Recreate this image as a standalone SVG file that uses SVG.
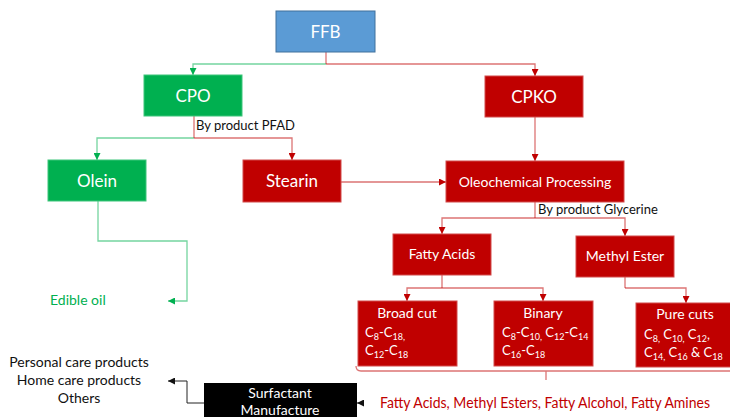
<svg xmlns="http://www.w3.org/2000/svg" width="730" height="417" viewBox="0 0 730 417">
<style>
text{font-family:Lato,"Open Sans","Liberation Sans",sans-serif}
.red{fill:#C00000;stroke:#D24A4A;stroke-width:1}
.grn{fill:#00B050;stroke:#3CC57A;stroke-width:1}
.wt{fill:#fff;text-anchor:middle}
.big{font-size:17px}
.mid{font-size:14px}
.sm{font-size:13px}
.lg{fill:none;stroke:#00B050;stroke-opacity:.55;stroke-width:1.3}
.lr{fill:none;stroke:#C00000;stroke-opacity:.55;stroke-width:1.3}
.lk{fill:none;stroke:#222;stroke-width:1}
.sub{font-size:9px}
</style>
<defs>
<marker id="ag" viewBox="0 0 10 10" refX="10" refY="5" markerWidth="7" markerHeight="7" markerUnits="userSpaceOnUse" orient="auto"><path d="M0,0L10,5L0,10z" fill="#00B050"/></marker>
<marker id="ar" viewBox="0 0 10 10" refX="10" refY="5" markerWidth="7" markerHeight="7" markerUnits="userSpaceOnUse" orient="auto"><path d="M0,0L10,5L0,10z" fill="#C00000"/></marker>
<marker id="ak" viewBox="0 0 10 10" refX="10" refY="5" markerWidth="7" markerHeight="7" markerUnits="userSpaceOnUse" orient="auto"><path d="M0,0L10,5L0,10z" fill="#111"/></marker>
</defs>

<g id="connectors">
<path class="lr" d="M326,52V64"/>
<path class="lg" d="M326,64H193V75" marker-end="url(#ag)"/>
<path class="lr" d="M326,64H535V76" marker-end="url(#ar)"/>
<path class="lr" d="M194,116V138"/>
<path class="lg" d="M194,138H97V160" marker-end="url(#ag)"/>
<path class="lr" d="M194,138H292V160" marker-end="url(#ar)"/>
<path class="lr" d="M341,182H446" marker-end="url(#ar)"/>
<path class="lr" d="M535,117V161" marker-end="url(#ar)"/>
<path class="lr" d="M535,202V218"/>
<path class="lr" d="M535,218H442V234" marker-end="url(#ar)"/>
<path class="lr" d="M535,218H625V236" marker-end="url(#ar)"/>
<path class="lr" d="M442,275V288M625,277V288"/>
<path class="lr" d="M442,288H407V301" marker-end="url(#ar)"/>
<path class="lr" d="M442,288H543V301" marker-end="url(#ar)"/>
<path class="lr" d="M625,288H686V303" marker-end="url(#ar)"/>
<path class="lg" d="M98,201V241H187V301H168" marker-end="url(#ag)"/>
<path class="lr" d="M356,366Q356,371 361,371H730M546,371V380"/>
<path class="lk" d="M204,403H187V381H168" marker-end="url(#ak)"/>
<path class="lk" d="M364,403H357" marker-end="url(#ak)"/>
</g>

<g id="ffb"><rect x="276" y="11" width="99" height="41" fill="#5B9BD5" stroke="#41719C"/><text class="wt big" x="325.5" y="38">FFB</text></g>
<g id="cpo"><rect class="grn" x="144" y="75" width="98" height="41"/><text class="wt big" x="193" y="102">CPO</text></g>
<g id="cpko"><rect class="red" x="485" y="76" width="98" height="41"/><text class="wt big" x="534" y="103">CPKO</text></g>
<g id="pfad"><text class="sm" x="196" y="130" fill="#111">By product PFAD</text></g>
<g id="olein"><rect class="grn" x="48" y="160" width="98" height="41"/><text class="wt big" x="97" y="187">Olein</text></g>
<g id="stearin"><rect class="red" x="243" y="160" width="98" height="42"/><text class="wt big" x="292" y="187">Stearin</text></g>
<g id="oleo"><rect class="red" x="446" y="161" width="178" height="41"/><text class="wt mid" x="535" y="187">Oleochemical Processing</text></g>
<g id="glycerine"><text class="sm" x="538" y="214" fill="#111">By product Glycerine</text></g>
<g id="fatty-acids"><rect class="red" x="393" y="234" width="98" height="41"/><text class="wt mid" x="442" y="259">Fatty Acids</text></g>
<g id="methyl-ester"><rect class="red" x="576" y="236" width="98" height="41"/><text class="wt mid" x="625" y="261">Methyl Ester</text></g>
<g id="broad-cut"><rect class="red" x="358" y="301" width="99" height="65"/>
<text class="wt mid" x="407" y="318">Broad cut</text>
<text class="sm" fill="#fff" x="365" y="337">C<tspan class="sub" dy="3">8</tspan><tspan dy="-3">-C</tspan><tspan class="sub" dy="3">18,</tspan></text>
<text class="sm" fill="#fff" x="365" y="355">C<tspan class="sub" dy="3">12</tspan><tspan dy="-3">-C</tspan><tspan class="sub" dy="3">18</tspan></text>
</g>
<g id="binary"><rect class="red" x="494" y="301" width="99" height="65"/>
<text class="wt mid" x="543" y="318">Binary</text>
<text class="sm" fill="#fff" x="502" y="337">C<tspan class="sub" dy="3">8</tspan><tspan dy="-3">-C</tspan><tspan class="sub" dy="3">10,</tspan><tspan dy="-3"> C</tspan><tspan class="sub" dy="3">12</tspan><tspan dy="-3">-C</tspan><tspan class="sub" dy="3">14</tspan></text>
<text class="sm" fill="#fff" x="502" y="355">C<tspan class="sub" dy="3">16</tspan><tspan dy="-3">-C</tspan><tspan class="sub" dy="3">18</tspan></text>
</g>
<g id="pure-cuts"><rect class="red" x="636" y="303" width="96" height="64"/>
<text class="wt mid" x="685" y="319">Pure cuts</text>
<text class="sm" fill="#fff" x="644" y="339">C<tspan class="sub" dy="3">8,</tspan><tspan dy="-3"> C</tspan><tspan class="sub" dy="3">10,</tspan><tspan dy="-3"> C</tspan><tspan class="sub" dy="3">12</tspan><tspan dy="-3">,</tspan></text>
<text class="sm" fill="#fff" x="644" y="357">C<tspan class="sub" dy="3">14,</tspan><tspan dy="-3"> C</tspan><tspan class="sub" dy="3">16</tspan><tspan dy="-3"> &amp; C</tspan><tspan class="sub" dy="3">18</tspan></text>
</g>
<g id="edible-oil"><text x="50" y="305" font-size="14" fill="#00B050">Edible oil</text></g>
<g id="products"><text x="79" y="367" font-size="14" fill="#111" text-anchor="middle">Personal care products</text>
<text x="79" y="385" font-size="14" fill="#111" text-anchor="middle">Home care products</text>
<text x="79" y="403" font-size="14" fill="#111" text-anchor="middle">Others</text></g>
<g id="surfactant"><rect x="204" y="383" width="153" height="40" fill="#000"/><text class="wt mid" x="280" y="398">Surfactant</text><text class="wt mid" x="280" y="415">Manufacture</text></g>
<g id="outputs"><text x="380" y="408" font-size="14.5" fill="#C00000" textLength="330" lengthAdjust="spacingAndGlyphs">Fatty Acids, Methyl Esters, Fatty Alcohol, Fatty Amines</text></g>
</svg>
